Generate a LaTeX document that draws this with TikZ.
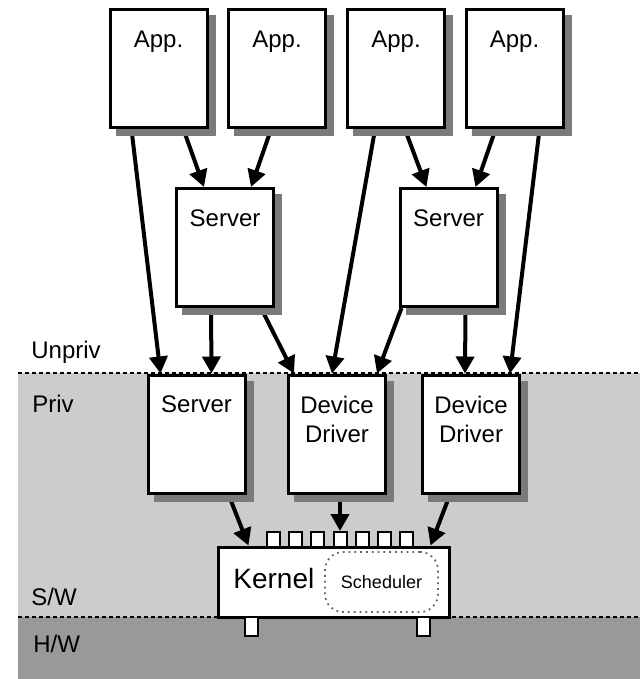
\documentclass[tikz,border=0pt]{standalone}
\usepackage{fontspec}
\setmainfont{Liberation Sans}
\usepackage{tikz}
\usetikzlibrary{arrows.meta}
\pgfdeclarelayer{background}
\pgfdeclarelayer{edges}
\pgfsetlayers{background,edges,main}
\definecolor{privgray}{HTML}{CCCCCC}
\definecolor{hwgray}{HTML}{999999}
\definecolor{shadegray}{HTML}{7A7A7A}

\begin{document}
\begin{tikzpicture}[x=0.5pt,y=-0.5pt,
    box/.style={draw,fill=white,line width=1.5pt,minimum width=48.5pt,
      minimum height=59pt,inner sep=0pt},
    boxtext/.style={anchor=north,inner sep=0pt,yshift=-11pt,align=center,
      font=\fontsize{12}{14.5}\selectfont},
    port/.style={draw,fill=white,line width=1pt,minimum width=6.5pt,
      minimum height=7.5pt,inner sep=0pt},
    flow/.style={line width=2pt,-{Triangle[length=8.5pt,width=9pt]}},
    border/.style={line width=1pt,dash pattern=on 2pt off 1.5pt},
    side/.style={anchor=base west,inner sep=0pt,font=\fontsize{12}{14}\selectfont}]

  \useasboundingbox (0,0) rectangle (640,679);

  % privilege levels
  \begin{pgfonlayer}{background}
    \fill[privgray] (18,373) rectangle (640,617);
    \fill[hwgray] (18,617) rectangle (640,679);
    \draw[border] (18,373) -- (640,373);
    \draw[border] (18,617) -- (640,617);
  \end{pgfonlayer}

  % shadows under the boxes
  \foreach \cx/\cy in {158.5/69,277/69,396/69,514.5/69,225/247.5,448.5/247.5,
                       196.5/434,337/434,471/434}
    \fill[shadegray] (\cx+7,\cy+7) +(-50,-60.5) rectangle +(50,60.5);

  \node[side] (unpriv) at (31,358) {Unpriv};
  \node[side] (priv) at (32,412) {Priv};
  \node[side] (sw) at (31,605) {S/W};
  \node[side] (hw) at (33,652) {H/W};

  % applications
  \node[box,label={[boxtext]north:App.}] (app1) at (158.5,69) {};
  \node[box,label={[boxtext]north:App.}] (app2) at (277,69) {};
  \node[box,label={[boxtext]north:App.}] (app3) at (396,69) {};
  \node[box,label={[boxtext]north:App.}] (app4) at (514.5,69) {};

  % servers and drivers
  \node[box,label={[boxtext]north:Server}] (srvA) at (225,247.5) {};
  \node[box,label={[boxtext]north:Server}] (srvB) at (448.5,247.5) {};
  \node[box,label={[boxtext]north:Server}] (srvC) at (196.5,434) {};
  \node[box,label={[boxtext]north:Device\\Driver}] (dd1) at (337,434) {};
  \node[box,label={[boxtext]north:Device\\Driver}] (dd2) at (471,434) {};

  % kernel
  \node[box,minimum width=115.5pt,minimum height=35pt] (kernel) at (333.5,582) {};
  \node[anchor=base west,inner sep=0pt,font=\fontsize{14}{16}\selectfont]
    (kname) at (233,588) {Kernel};
  \node[draw=black!60,dotted,line width=0.9pt,rounded corners=9pt,
    minimum width=56.5pt,minimum height=30pt,inner sep=0pt,
    font=\fontsize{9}{11}\selectfont] (sched) at (381.5,582) {Scheduler};
  \foreach \i in {0,...,6}
    \node[port] (tp\i) at ({273.5+22.17*\i},539.5) {};
  \node[port,minimum height=9.5pt] (bp1) at (251.5,626.5) {};
  \node[port,minimum height=9.5pt] (bp2) at (423.5,626.5) {};

  \begin{pgfonlayer}{edges}
    \draw[flow] ([xshift=11.5pt]app1.south west) -- ([xshift=7pt]srvC.north west);
    \draw[flow] ([xshift=37.5pt]app1.south west) -- ([xshift=14.5pt]srvA.north west);
    \draw[flow] ([xshift=22pt]app2.south west) -- ([xshift=38pt]srvA.north west);
    \draw[flow] ([xshift=14.5pt]app3.south west) -- ([xshift=22.5pt]dd1.north west);
    \draw[flow] ([xshift=29.5pt]app3.south west) -- ([xshift=14pt]srvB.north west);
    \draw[flow] ([xshift=15.5pt]app4.south west) -- ([xshift=38.5pt]srvB.north west);
    \draw[flow] ([xshift=37.5pt]app4.south west) -- ([xshift=44.5pt]dd2.north west);
    \draw[flow] ([xshift=18pt]srvA.south west) -- ([xshift=32.5pt]srvC.north west);
    \draw[flow] ([xshift=43pt]srvA.south west) -- ([xshift=3.5pt]dd1.north west);
    \draw[flow] ([xshift=1.5pt]srvB.south west) -- ([xshift=45pt]dd1.north west);
    \draw[flow] ([xshift=33.5pt]srvB.south west) -- ([xshift=22pt]dd2.north west);
    \draw[flow] ([xshift=41pt]srvC.south west) -- ([xshift=16pt]kernel.north west);
    \draw[flow] (dd1.south -| tp3) -- (tp3.north);
    \draw[flow] ([xshift=14.5pt]dd2.south west) -- ([xshift=107pt]kernel.north west);
  \end{pgfonlayer}
\end{tikzpicture}
\end{document}
